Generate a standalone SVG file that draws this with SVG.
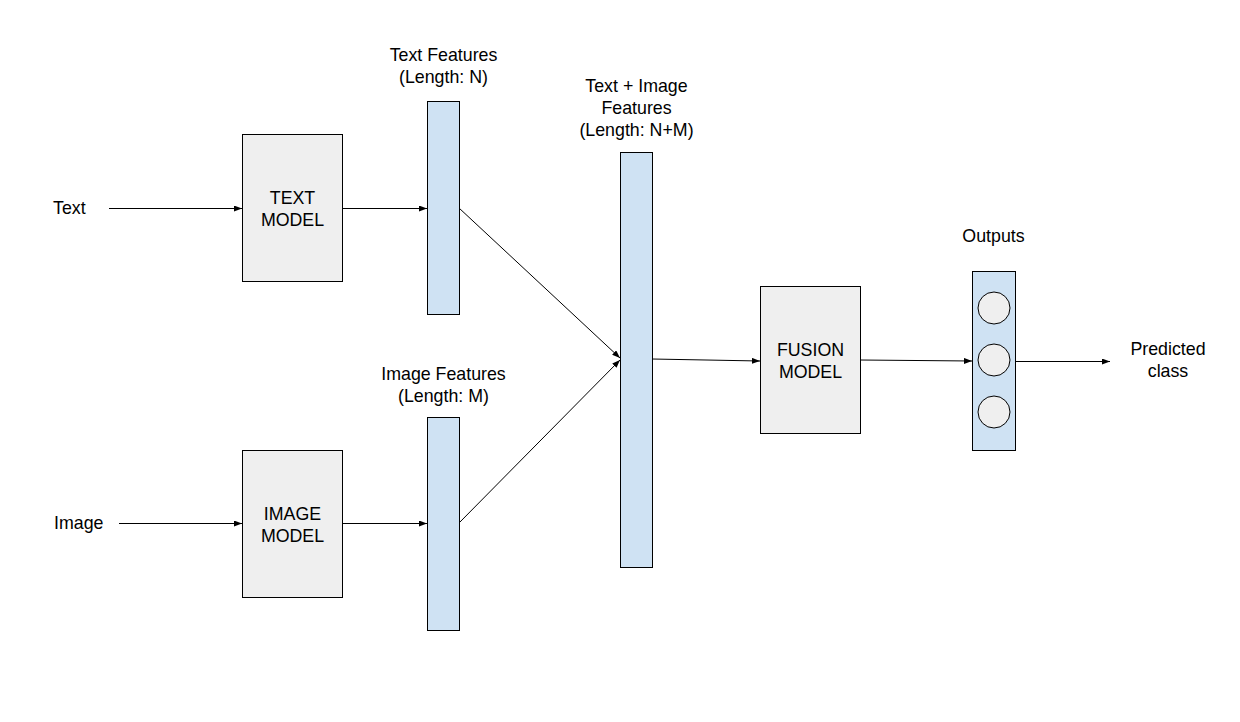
<svg xmlns="http://www.w3.org/2000/svg" width="1240" height="722" viewBox="0 0 1240 722">
<style>
.box{fill:#efefef;stroke:#000;stroke-width:1}
.bar{fill:#cfe2f3;stroke:#000;stroke-width:1}
.circ{fill:#efefef;stroke:#000;stroke-width:1}
.t{font-family:"Liberation Sans",Arial,sans-serif;font-size:17.8px;fill:#000}
.c{text-anchor:middle}
.ln{stroke:#000;stroke-width:1;fill:none;marker-end:url(#ah)}
</style>
<defs>
<marker id="ah" viewBox="0 0 8 6" refX="8" refY="3" markerWidth="8" markerHeight="6" markerUnits="userSpaceOnUse" orient="auto">
<path d="M0,0 L8,3 L0,6 Z" fill="#000"/>
</marker>
</defs>
<rect width="1240" height="722" fill="#fff"/>
<g id="connectors">
<line class="ln" x1="109" y1="208.5" x2="242" y2="208.5"/>
<line class="ln" x1="342" y1="208.5" x2="427" y2="208.5"/>
<line class="ln" x1="119" y1="523.5" x2="242" y2="523.5"/>
<line class="ln" x1="342" y1="523.5" x2="427" y2="523.5"/>
<line class="ln" x1="459" y1="208" x2="620" y2="358"/>
<line class="ln" x1="459" y1="523" x2="620" y2="360"/>
<line class="ln" x1="652" y1="359" x2="760" y2="361"/>
<line class="ln" x1="860" y1="360" x2="972" y2="361"/>
<line class="ln" x1="1015" y1="361.5" x2="1110" y2="361.5"/>
</g>
<g id="label-text"><text class="t" x="53" y="214">Text</text></g>
<g id="label-image"><text class="t" x="54" y="529">Image</text></g>
<g id="text-model">
<rect class="box" x="242.5" y="134.5" width="100" height="147"/>
<text class="t c" x="292.5" y="204">TEXT</text>
<text class="t c" x="292.5" y="226">MODEL</text>
</g>
<g id="image-model">
<rect class="box" x="242.5" y="450.5" width="100" height="147"/>
<text class="t c" x="292.5" y="520">IMAGE</text>
<text class="t c" x="292.5" y="542">MODEL</text>
</g>
<g id="text-features">
<rect class="bar" x="427.5" y="101.5" width="32" height="213"/>
<text class="t c" x="443.5" y="61">Text Features</text>
<text class="t c" x="443.5" y="83">(Length: N)</text>
</g>
<g id="image-features">
<rect class="bar" x="427.5" y="417.5" width="32" height="213"/>
<text class="t c" x="443.5" y="380">Image Features</text>
<text class="t c" x="443.5" y="402">(Length: M)</text>
</g>
<g id="combined-features">
<rect class="bar" x="620.5" y="152.5" width="32" height="415"/>
<text class="t c" x="636.5" y="92">Text + Image</text>
<text class="t c" x="636.5" y="114">Features</text>
<text class="t c" x="636.5" y="136">(Length: N+M)</text>
</g>
<g id="fusion-model">
<rect class="box" x="760.5" y="286.5" width="100" height="147"/>
<text class="t c" x="810.5" y="356">FUSION</text>
<text class="t c" x="810.5" y="378">MODEL</text>
</g>
<g id="outputs">
<rect class="bar" x="972.5" y="271.5" width="43" height="179"/>
<circle class="circ" cx="994" cy="308" r="16"/>
<circle class="circ" cx="994" cy="360" r="16"/>
<circle class="circ" cx="994" cy="412" r="16"/>
<text class="t c" x="993.5" y="242">Outputs</text>
</g>
<g id="predicted-class">
<text class="t c" x="1168" y="355">Predicted</text>
<text class="t c" x="1168" y="377">class</text>
</g>
</svg>
